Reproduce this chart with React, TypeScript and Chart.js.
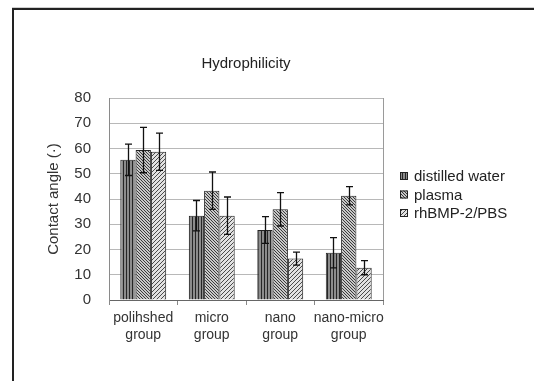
import React, { useEffect, useRef } from "react";
import { Chart, registerables } from "chart.js";

Chart.register(...registerables);

const categories: string[][] = [
  ["polihshed", "group"],
  ["micro", "group"],
  ["nano", "group"],
  ["nano-micro", "group"],
];
const seriesNames = ["distilled water", "plasma", "rhBMP-2/PBS"];
const distilledWater = [55.5, 33.4, 27.7, 18.7];
const plasma = [59.4, 43.3, 35.9, 41.3];
const rhBMP = [58.7, 33.4, 16.4, 12.8];
const distilledErr = [6.2, 6.0, 5.3, 6.0];
const plasmaErr = [9.0, 7.4, 6.6, 3.6];
const rhBMPErr = [7.4, 7.4, 2.6, 2.8];
const yTicks = [0, 10, 20, 30, 40, 50, 60, 70, 80];

const FONT = "'Liberation Sans', Arial, sans-serif";

function makePattern(kind: number): CanvasPattern | string {
  const c = document.createElement("canvas");
  const ctx = c.getContext("2d");
  if (!ctx) return "#888";
  if (kind === 0) {
    c.width = 3;
    c.height = 3;
    ctx.fillStyle = "#8c8c8c";
    ctx.fillRect(0, 0, 3, 3);
    ctx.fillStyle = "#262626";
    ctx.fillRect(0, 0, 1, 3);
  } else if (kind === 1) {
    c.width = 3;
    c.height = 3;
    ctx.fillStyle = "#c8c8c8";
    ctx.fillRect(0, 0, 3, 3);
    ctx.fillStyle = "#3a3a3a";
    for (let i = 0; i < 3; i++) ctx.fillRect(i, i, 1, 1);
  } else {
    c.width = 4;
    c.height = 4;
    ctx.fillStyle = "#e2e2e2";
    ctx.fillRect(0, 0, 4, 4);
    ctx.fillStyle = "#4a4a4a";
    for (let i = 0; i < 4; i++) {
      ctx.fillRect(3 - i, i, 1, 1);
    }
  }
  const p = ctx.createPattern(c, "repeat");
  return p || "#888";
}

const errors = [distilledErr, plasmaErr, rhBMPErr];

const framePlugin = {
  id: "frame",
  beforeDraw(chart: any) {
    const { ctx, width, height } = chart;
    ctx.save();
    ctx.fillStyle = "#ffffff";
    ctx.fillRect(0, 0, width, height);
    ctx.strokeStyle = "#cfcfcf";
    ctx.lineWidth = 1;
    ctx.beginPath();
    ctx.moveTo(12, 7.5);
    ctx.lineTo(width, 7.5);
    ctx.stroke();
    ctx.strokeStyle = "#222";
    ctx.lineWidth = 2;
    ctx.beginPath();
    ctx.moveTo(13, height);
    ctx.lineTo(13, 9);
    ctx.lineTo(width, 9);
    ctx.stroke();
    ctx.restore();
  },
  afterDraw(chart: any) {
    const { ctx, chartArea } = chart;
    ctx.save();
    ctx.strokeStyle = "#9a9a9a";
    ctx.lineWidth = 1;
    ctx.beginPath();
    ctx.moveTo(chartArea.right + 0.5, chartArea.top);
    ctx.lineTo(chartArea.right + 0.5, chartArea.bottom);
    ctx.stroke();
    ctx.restore();
  },
};

const errorBarPlugin = {
  id: "errorBars",
  afterDatasetsDraw(chart: any) {
    const { ctx } = chart;
    const yScale = chart.scales.y;
    ctx.save();
    ctx.strokeStyle = "#111";
    ctx.lineWidth = 1.3;
    chart.data.datasets.forEach((ds: any, di: number) => {
      const meta = chart.getDatasetMeta(di);
      meta.data.forEach((bar: any, i: number) => {
        const v = ds.data[i];
        const e = errors[di][i];
        const x = Math.round(bar.x) + 0.5;
        const yt = yScale.getPixelForValue(v + e);
        const yb = yScale.getPixelForValue(v - e);
        ctx.beginPath();
        ctx.moveTo(x, yt);
        ctx.lineTo(x, yb);
        ctx.moveTo(x - 3.5, yt);
        ctx.lineTo(x + 3.5, yt);
        ctx.moveTo(x - 3.5, yb);
        ctx.lineTo(x + 3.5, yb);
        ctx.stroke();
      });
    });
    ctx.restore();
  },
};

const legendPlugin = {
  id: "customLegend",
  afterDraw(chart: any) {
    const { ctx, chartArea } = chart;
    const x0 = chartArea.right + 17;
    const yStart = 176;
    const step = 18.5;
    ctx.save();
    ctx.font = `15px ${FONT}`;
    ctx.textBaseline = "middle";
    ctx.textAlign = "left";
    chart.data.datasets.forEach((ds: any, i: number) => {
      const y = yStart + i * step;
      ctx.fillStyle = ds.backgroundColor;
      ctx.fillRect(x0, y - 4, 8, 8);
      ctx.strokeStyle = "#222";
      ctx.lineWidth = 1;
      ctx.strokeRect(x0 + 0.5, y - 3.5, 7, 7);
      ctx.fillStyle = "#222";
      ctx.fillText(ds.label, x0 + 14, y + 1);
    });
    ctx.restore();
  },
};

export default function App() {
  const ref = useRef<HTMLCanvasElement | null>(null);
  useEffect(() => {
    if (!ref.current) return;
    const seriesData = [distilledWater, plasma, rhBMP];
    const chart = new Chart(ref.current, {
      type: "bar",
      data: {
        labels: categories,
        datasets: seriesNames.map((name, i) => ({
          label: name,
          data: seriesData[i],
          backgroundColor: makePattern(i) as any,
          borderColor: "#222",
          borderWidth: 1,
          barPercentage: 1,
          categoryPercentage: 0.67,
        })),
      },
      options: {
        animation: false,
        responsive: false,
        devicePixelRatio: 1,
        layout: { padding: { top: 0, right: 151, bottom: 0, left: 0 } },
        plugins: {
          legend: { display: false },
          tooltip: { enabled: false },
          title: {
            display: true,
            text: "Hydrophilicity",
            fullSize: false,
            color: "#222",
            font: { family: FONT, size: 15, weight: "normal" },
            padding: { top: 55, bottom: 25 },
          },
        },
        scales: {
          x: {
            grid: {
              offset: true,
              drawOnChartArea: false,
              drawTicks: true,
              tickLength: 5,
              color: "#888",
            },
            border: { color: "#666", width: 1 },
            ticks: {
              color: "#333",
              font: { family: FONT, size: 14, lineHeight: 1.2 },
              padding: 5,
              maxRotation: 0,
              autoSkip: false,
            },
            afterFit(scale: any) {
              scale.height = 81;
            },
          },
          y: {
            min: 0,
            max: 80,
            afterBuildTicks(scale: any) {
              scale.ticks = yTicks.map((v) => ({ value: v }));
            },
            grid: { color: "#b8b8b8", drawTicks: false },
            border: { color: "#8a8a8a", width: 1 },
            ticks: {
              color: "#333",
              font: { family: FONT, size: 15 },
              padding: 18,
            },
            title: {
              display: true,
              text: "Contact angle (·)",
              color: "#333",
              font: { family: FONT, size: 15 },
              padding: { top: 45, bottom: 0 },
            },
            afterFit(scale: any) {
              scale.width = 109;
            },
          },
        },
      },
      plugins: [framePlugin, errorBarPlugin, legendPlugin],
    });
    return () => chart.destroy();
  }, []);
  return (
    <div style={{ position: "fixed", left: 0, top: 0, width: 534, height: 381, background: "#fff" }}>
      <canvas ref={ref} width={534} height={381} style={{ display: "block", width: 534, height: 381 }} />
    </div>
  );
}
